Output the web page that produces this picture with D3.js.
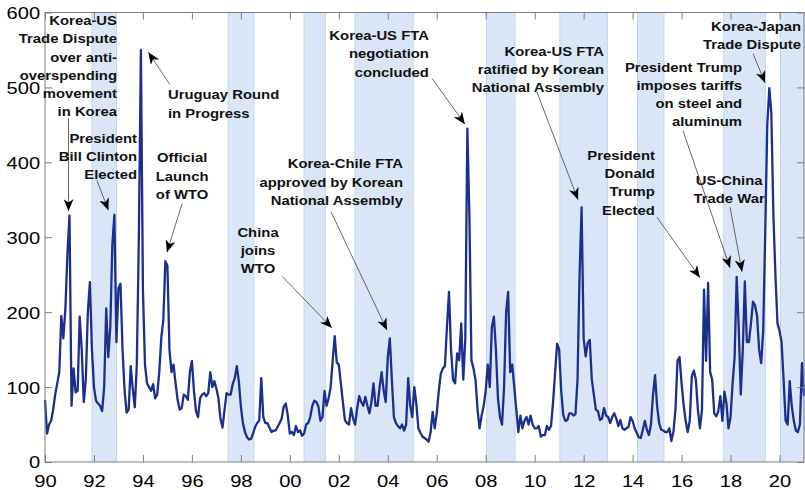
<!DOCTYPE html>
<html>
<head>
<meta charset="utf-8">
<script src="https://cdn.jsdelivr.net/npm/d3@7/dist/d3.min.js"></script>
<style>
    body { margin: 0; background: #fff; }
    svg text { font-family: "Liberation Sans", Arial, sans-serif; }
</style>
</head>
<body>
<div id="chart"></div>
<script>

// monthly index values, one array per year (Jan..Dec)
const v1990 = [83, 38, 50, 55, 70, 90, 105, 120, 195, 165, 205, 278];
const v1991 = [329, 75, 125, 93, 95, 194, 150, 80, 110, 200, 240, 150];
const v1992 = [100, 82, 78, 75, 68, 100, 205, 140, 180, 290, 330, 160];
const v1993 = [232, 238, 150, 96, 66, 70, 128, 98, 73, 130, 300, 550];
const v1994 = [230, 130, 105, 100, 95, 104, 85, 90, 120, 166, 190, 268];
const v1995 = [262, 150, 120, 130, 105, 83, 70, 72, 90, 88, 83, 120];
const v1996 = [135, 95, 68, 60, 85, 90, 92, 88, 92, 120, 100, 108];
const v1997 = [98, 85, 58, 46, 70, 92, 90, 90, 104, 112, 128, 108];
const v1998 = [74, 52, 40, 33, 30, 31, 38, 47, 52, 55, 112, 60];
const v1999 = [52, 52, 46, 40, 42, 42, 47, 52, 58, 74, 78, 62];
const v2000 = [38, 40, 36, 48, 40, 42, 35, 38, 50, 52, 60, 75];
const v2001 = [82, 80, 74, 55, 60, 95, 75, 85, 100, 135, 168, 133];
const v2002 = [130, 105, 80, 56, 52, 50, 72, 58, 50, 72, 88, 80];
const v2003 = [75, 87, 75, 65, 80, 105, 75, 75, 100, 120, 95, 80];
const v2004 = [140, 165, 110, 60, 52, 48, 45, 50, 42, 50, 112, 75];
const v2005 = [60, 100, 78, 45, 39, 34, 32, 30, 27, 40, 67, 45];
const v2006 = [65, 95, 118, 125, 128, 180, 227, 150, 110, 105, 145, 136];
const v2007 = [185, 110, 165, 445, 330, 136, 125, 110, 70, 45, 62, 75];
const v2008 = [95, 130, 100, 180, 194, 150, 85, 60, 50, 100, 200, 227];
const v2009 = [120, 130, 100, 70, 40, 62, 45, 55, 60, 50, 62, 50];
const v2010 = [45, 45, 48, 34, 36, 36, 48, 43, 48, 79, 119, 158];
const v2011 = [150, 95, 63, 55, 56, 65, 65, 62, 64, 110, 250, 340];
const v2012 = [165, 141, 159, 163, 110, 90, 70, 68, 56, 58, 72, 62];
const v2013 = [60, 52, 60, 65, 58, 48, 56, 45, 43, 45, 47, 60];
const v2014 = [55, 45, 39, 33, 32, 43, 55, 43, 36, 50, 90, 116];
const v2015 = [75, 52, 43, 42, 40, 40, 45, 28, 40, 70, 135, 140];
const v2016 = [105, 76, 55, 40, 55, 114, 122, 110, 70, 45, 70, 230];
const v2017 = [135, 239, 120, 110, 65, 61, 68, 88, 55, 94, 78, 45];
const v2018 = [60, 105, 140, 247, 180, 90, 150, 241, 160, 160, 185, 214];
const v2019 = [209, 195, 150, 132, 175, 305, 450, 499, 465, 330, 250, 185];
const v2020 = [175, 160, 110, 55, 50, 108, 75, 55, 42, 40, 50, 132];
const v2021 = [88];

const startYear = 1990;

// shaded periods (decimal years)
const bandStart = [1991.92, 1997.48, 2000.58, 2002.66, 2008.03, 2011.03, 2014.2, 2017.72, 2020.04];
const bandEnd   = [1992.92, 1998.53, 2001.45, 2005.04, 2009.2, 2012.97, 2015.28, 2019.42, 2021];

// axis ticks
const xTickYears  = [1990, 1992, 1994, 1996, 1998, 2000, 2002, 2004, 2006, 2008, 2010, 2012, 2014, 2016, 2018, 2020];
const xTickLabels = ["90", "92", "94", "96", "98", "00", "02", "04", "06", "08", "10", "12", "14", "16", "18", "20"];
const yTicks = [0, 100, 200, 300, 400, 500, 600];

// event labels
const noteTexts = [
    ["Korea-US", "Trade Dispute", "over anti-", "overspending", "movement", "in Korea"],
    ["President", "Bill Clinton", "Elected"],
    ["Uruguay Round", "in Progress"],
    ["Official", "Launch", "of WTO"],
    ["China", "joins", "WTO"],
    ["Korea-Chile FTA", "approved by Korean", "National Assembly"],
    ["Korea-US FTA", "negotiation", "concluded"],
    ["Korea-US FTA", "ratified by Korean", "National Assembly"],
    ["President", "Donald", "Trump", "Elected"],
    ["President Trump", "imposes tariffs", "on steel and", "aluminum"],
    ["US-China", "Trade War"],
    ["Korea-Japan", "Trade Dispute"]
];

const indexValues = [].concat(v1990, v1991, v1992, v1993, v1994, v1995, v1996, v1997, v1998, v1999,
    v2000, v2001, v2002, v2003, v2004, v2005, v2006, v2007, v2008, v2009,
    v2010, v2011, v2012, v2013, v2014, v2015, v2016, v2017, v2018, v2019, v2020, v2021);

const series = indexValues.map((v, i) => ({date: startYear + i / 12, value: v}));

// layout of the labels: text anchor [year, value], arrow tail and tip [year, value]
const noteLayout = [
    {at: [1992.94, 583], anchor: "end",    tail: [1990.96, 459], tip: [1990.96, 335]},
    {at: [1993.76, 426], anchor: "end",    tail: [1992.12, 376], tip: [1992.59, 336]},
    {at: [1995.02, 484], anchor: "start",  tail: [1995.10, 504], tip: [1994.22, 547]},
    {at: [1995.60, 400], anchor: "middle", tail: [1995.60, 345], tip: [1994.98, 280]},
    {at: [1998.70, 301], anchor: "middle", tail: [1999.68, 248], tip: [2001.72, 179]},
    {at: [2004.62, 392], anchor: "end",    tail: [2001.68, 334], tip: [2003.97, 176]},
    {at: [2005.68, 563], anchor: "end",    tail: [2005.81, 512], tip: [2007.15, 451]},
    {at: [2012.83, 542], anchor: "end",    tail: [2010.09, 494], tip: [2011.77, 350]},
    {at: [2014.91, 403], anchor: "end",    tail: [2014.99, 327], tip: [2016.75, 246]},
    {at: [2018.47, 521], anchor: "end",    tail: [2016.06, 442], tip: [2017.98, 259]},
    {at: [2017.94, 370], anchor: "middle", tail: [2017.98, 340], tip: [2018.47, 254]},
    {at: [2020.88, 575], anchor: "end",    tail: [2018.92, 545], tip: [2019.41, 506]}
];

const width = 805, height = 490;
const plot = {left: 45, right: 804, top: 12.5, bottom: 462};

const svg = d3.select("#chart").append("svg")
    .attr("width", width)
    .attr("height", height);

const x = d3.scaleLinear().domain([1990, 2021]).range([plot.left, plot.right]);
const y = d3.scaleLinear().domain([0, 600]).range([plot.bottom, plot.top]);

// shaded bands
const bands = svg.append("g").attr("class", "bands");
bandStart.forEach((b, i) => {
    const x0 = x(b), x1 = Math.min(x(bandEnd[i]), plot.right);
    bands.append("rect")
        .attr("x", x0).attr("y", plot.top)
        .attr("width", x1 - x0).attr("height", plot.bottom - plot.top)
        .attr("fill", "#dae6f7");
    [x0, x1].forEach(xx => {
        bands.append("line")
            .attr("x1", xx).attr("x2", xx)
            .attr("y1", plot.top).attr("y2", plot.bottom)
            .attr("stroke", "#c3d6f0").attr("stroke-width", 1);
    });
});

// series line
const line = d3.line()
    .x(d => x(d.date))
    .y(d => y(d.value));

svg.append("path")
    .datum(series)
    .attr("fill", "none")
    .attr("stroke", "#1b2f8e")
    .attr("stroke-width", 2.3)
    .attr("stroke-linejoin", "round")
    .attr("d", line);

// frame + axes (ticks point inward)
const frameColor = "#7f7f7f";

const xAxisBottom = svg.append("g")
    .attr("transform", "translate(0," + plot.bottom + ")")
    .call(d3.axisBottom(x).tickValues(xTickYears).tickFormat((d, i) => xTickLabels[i]).tickSize(-7));
xAxisBottom.selectAll("text")
    .attr("y", 25).attr("dy", 0)
    .attr("font-size", 16.5)
    .attr("fill", "#000")
    .attr("transform", "scale(1.22,1)");

const xAxisTop = svg.append("g")
    .attr("transform", "translate(0," + plot.top + ")")
    .call(d3.axisTop(x).tickValues(xTickYears).tickFormat("").tickSize(-7));

const yAxisLeft = svg.append("g")
    .attr("transform", "translate(" + plot.left + ",0)")
    .call(d3.axisLeft(y).tickValues(yTicks).tickSize(-7));
yAxisLeft.selectAll("text")
    .attr("x", -4).attr("dy", "0.36em")
    .attr("font-size", 16.5)
    .attr("fill", "#000")
    .attr("transform", "scale(1.22,1)");

const yAxisRight = svg.append("g")
    .attr("transform", "translate(" + plot.right + ",0)")
    .call(d3.axisRight(y).tickValues(yTicks).tickFormat("").tickSize(-7));

[xAxisBottom, xAxisTop, yAxisLeft, yAxisRight].forEach(a => {
    a.select(".domain").remove();
    a.selectAll(".tick line").attr("stroke", frameColor);
});

svg.append("rect")
    .attr("x", plot.left).attr("y", plot.top)
    .attr("width", plot.right - plot.left).attr("height", plot.bottom - plot.top)
    .attr("fill", "none")
    .attr("stroke", frameColor)
    .attr("stroke-width", 1);

// arrowhead
svg.append("defs").append("marker")
    .attr("id", "head")
    .attr("viewBox", "0 0 12 10")
    .attr("refX", 12).attr("refY", 5)
    .attr("markerWidth", 12).attr("markerHeight", 10)
    .attr("markerUnits", "userSpaceOnUse")
    .attr("orient", "auto")
    .append("path")
    .attr("d", "M0,0 L12,5 L0,10 L3.5,5 Z")
    .attr("fill", "#000");

// annotations
const notes = svg.append("g").attr("class", "notes");
noteLayout.forEach((n, i) => {
    notes.append("line")
        .attr("x1", x(n.tail[0])).attr("y1", y(n.tail[1]))
        .attr("x2", x(n.tip[0])).attr("y2", y(n.tip[1]))
        .attr("stroke", "#444")
        .attr("stroke-width", 0.8)
        .attr("marker-end", "url(#head)");

    noteTexts[i].forEach((t, j) => {
        notes.append("text")
            .attr("transform", "translate(" + x(n.at[0]) + "," + (y(n.at[1]) + j * 18.2) + ") scale(1.1,1)")
            .attr("text-anchor", n.anchor)
            .attr("font-size", 13.5)
            .attr("font-weight", "bold")
            .attr("fill", "#111")
            .text(t);
    });
});

</script>
</body>
</html>
